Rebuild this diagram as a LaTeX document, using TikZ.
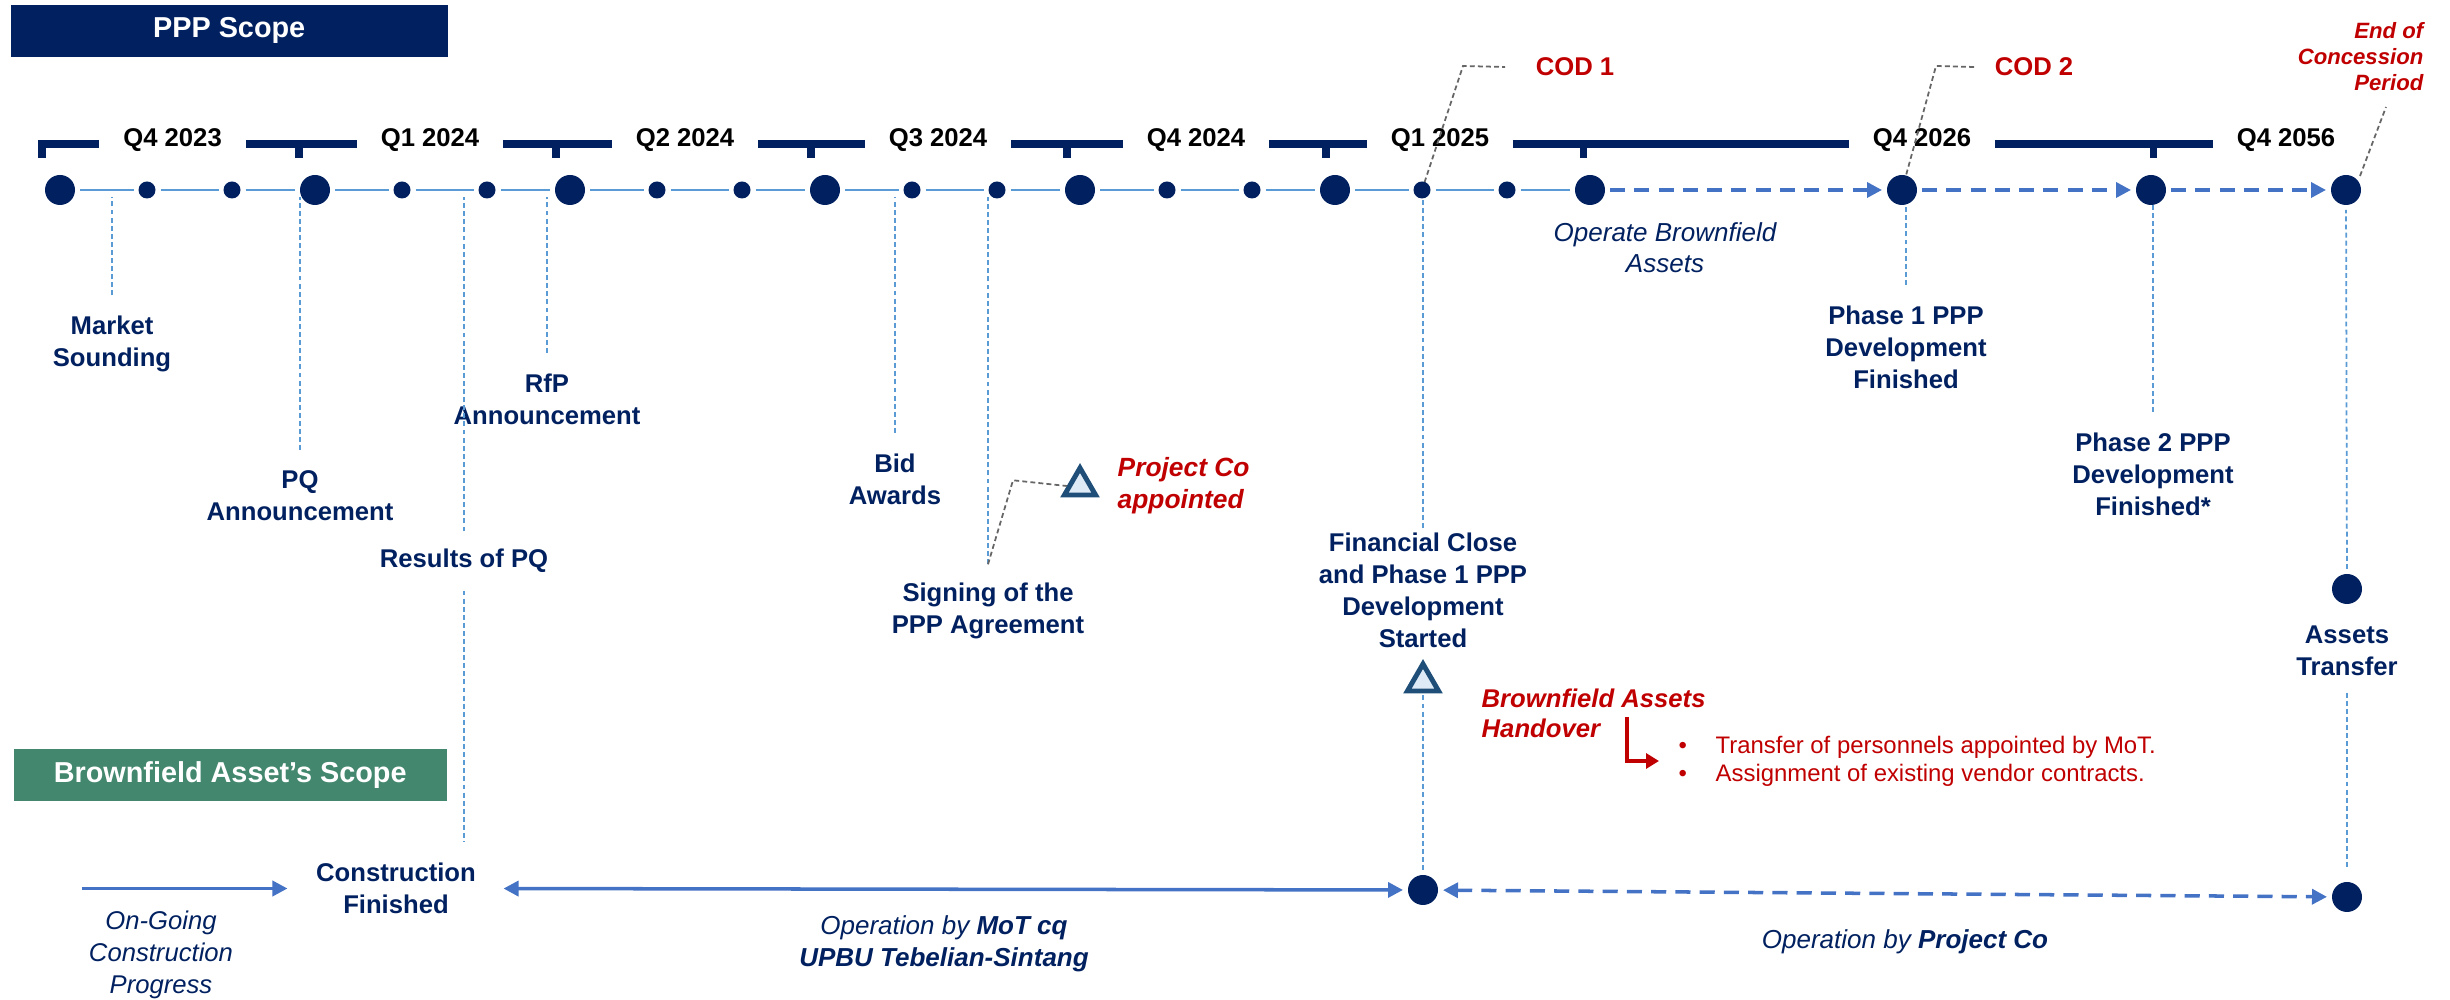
\documentclass[tikz,border=0pt]{standalone}
\usepackage{fontspec}
\setmainfont{Liberation Sans}
\usetikzlibrary{arrows.meta}
\usetikzlibrary{shapes.geometric}
\definecolor{navy}{RGB}{0,32,96}
\definecolor{tlblue}{RGB}{91,155,213}
\definecolor{arrblue}{RGB}{68,114,196}
\definecolor{codred}{RGB}{192,0,0}
\definecolor{scopegreen}{RGB}{67,135,110}
\definecolor{trinavy}{RGB}{31,78,121}
\definecolor{trifill}{RGB}{222,235,247}
\begin{document}
\begin{tikzpicture}[
  >={Triangle[length=0.15cm,width=0.15cm]},
  bigdot/.style={circle,fill=navy,minimum size=0.30cm,inner sep=0pt,outer sep=0.05cm},
  smalldot/.style={circle,fill=navy,minimum size=0.17cm,inner sep=0pt,outer sep=0.05cm},
  seg/.style={tlblue,line width=0.8pt},
  fwd/.style={arrblue,line width=1pt,dash pattern=on 4.3pt off 2.6pt},
  leader/.style={tlblue,line width=0.5pt,dash pattern=on 1.4pt off 0.9pt,shorten <=0.2cm},
  callout/.style={black!60,line width=0.5pt,dash pattern=on 1.4pt off 0.9pt},
  milestone/.style={navy,font=\fontsize{7.3}{9.1}\selectfont\bfseries,align=center,inner sep=0pt},
  quarter/.style={fill=white,font=\fontsize{7.3}{9}\selectfont\bfseries,inner xsep=0.24cm,inner ysep=0.05cm},
  redtag/.style={codred,font=\fontsize{7.3}{9.1}\selectfont\bfseries,inner sep=0pt},
  redit/.style={codred,font=\fontsize{7.5}{9.1}\selectfont\bfseries\itshape,inner sep=0pt,align=left},
  phase/.style={navy,font=\fontsize{7.4}{9.1}\selectfont\itshape,align=center,inner sep=0pt},
  scope/.style={text=white,font=\fontsize{8.2}{10}\selectfont\bfseries,minimum height=0.52cm,anchor=north west},
  flag/.style={regular polygon,regular polygon sides=3,draw=trinavy,fill=trifill,line width=1.4pt,minimum size=0.36cm,inner sep=0pt},
]
\useasboundingbox (0,0) rectangle (24.5,-10);

\node[scope,fill=navy,minimum width=4.37cm] (ppp) at (0.10,-0.04) {PPP Scope};
\node[scope,fill=scopegreen,minimum width=4.33cm] (bfs) at (0.13,-7.48) {Brownfield Asset’s Scope};

\draw[navy,line width=2pt] (0.42,-1.58) -- (0.42,-1.44) -- (22.14,-1.44);
\foreach \x in {2.99,5.56,8.11,10.67,13.26,15.83,21.53}
  \draw[navy,line width=2pt] (\x,-1.44) -- (\x,-1.58);
\foreach \x/\q [count=\i] in {1.726/Q4 2023,4.30/Q1 2024,6.85/Q2 2024,9.38/Q3 2024,11.96/Q4 2024,14.40/Q1 2025,19.22/Q4 2026,22.86/Q4 2056}
  \node[quarter] (q\i) at (\x,-1.40) {\q};

\coordinate (tl) at (0,-1.97);
\node[milestone] (ms) at (1.12,-3.44) {Market\\Sounding};
\node[milestone] (pq) at (3.00,-4.96) {PQ\\Announcement};
\node[milestone] (rpq) at (4.64,-5.61) {Results of PQ};
\node[milestone] (rfp) at (5.47,-3.99) {RfP\\Announcement};
\node[milestone] (bid) at (8.95,-4.79) {Bid\\Awards};
\node[milestone] (sign) at (9.88,-6.11) {Signing of the\\PPP Agreement};
\node[milestone] (fc) at (14.23,-5.905) {Financial Close\\and Phase 1 PPP\\Development\\Started};
\node[milestone] (p1) at (19.06,-3.47) {Phase 1 PPP\\Development\\Finished};
\node[milestone] (p2) at (21.53,-4.74) {Phase 2 PPP\\Development\\Finished*};
\node[milestone] (atr) at (23.47,-6.51) {Assets\\Transfer};
\node[milestone] (cf) at (3.96,-8.885) {Construction\\Finished};

\node[redtag] (cod1) at (15.75,-0.67) {COD 1};
\node[redtag] (cod2) at (20.34,-0.67) {COD 2};
\node[redit,font=\fontsize{6.3}{7.5}\selectfont\bfseries\itshape,align=right,anchor=east] (eoc) at (24.24,-0.565) {End of\\Concession\\Period};
\node[redit,anchor=west] (pco) at (11.17,-4.86) {Project Co\\appointed};
\node[redit,font=\fontsize{7.3}{8.6}\selectfont\bfseries\itshape,anchor=west] (bah) at (14.81,-7.13) {Brownfield Assets\\Handover};
\node[codred,font=\fontsize{6.8}{8}\selectfont,align=left,anchor=west,inner sep=0pt] (bul) at (16.78,-7.61)
  {\makebox[0.37cm][l]{\textbullet}Transfer of personnels appointed by MoT.\\\makebox[0.37cm][l]{\textbullet}Assignment of existing vendor contracts.};

\node[flag] (tri1) at (10.80,-4.86) {};
\node[flag] (tri2) at (14.23,-6.82) {};

\node[phase,font=\fontsize{7.4}{8.8}\selectfont\itshape] (opb) at (16.65,-2.475) {Operate Brownfield\\Assets};
\node[phase,font=\fontsize{7.3}{9.2}\selectfont\itshape] (ogc) at (1.61,-9.55) {On-Going\\Construction\\Progress};
\node[phase] (opm) at (9.44,-9.44) {Operation by \textbf{MoT cq}\\\textbf{UPBU Tebelian-Sintang}};
\node[phase] (opc) at (19.05,-9.42) {Operation by \textbf{Project Co}};

\foreach \n in {ms,pq,rfp,bid,p1,p2}
  \draw[leader] (\n.north) -- (\n.north |- tl);
\draw[leader,shorten <=0.17cm] (rpq.north) -- (rpq.north |- tl);
\draw[leader,shorten <=0.17cm,shorten >=0.2cm] (rpq.south) -- (rpq.south |- cf.north);
\draw[leader,shorten <=0.18cm] (sign.north) -- (sign.north |- tl);
\draw[leader,shorten <=0.04cm] (fc.north) -- (fc.north |- tl);
\draw[leader,shorten <=0.02cm] (tri2.south) -- (tri2.south |- 0,-8.73);
\draw[leader,shorten <=0.16cm,shorten >=0.1cm] (atr.south) -- (atr.south |- 0,-8.80);

\draw[callout] (sign.north) ++(0,0.18) -- ++(0.25,0.84) -- (tri1.west);
\draw[callout] (14.22,-1.90) -- ++(0.41,1.24) -- ([xshift=-0.3cm]cod1.west);
\draw[callout] (19.02,-1.90) -- ++(0.34,1.24) -- ([xshift=-0.2cm]cod2.west);
\draw[callout] (23.60,-1.76) -- ++(0.26,0.69);

\foreach \i in {0,...,6}
  \node[bigdot] (b\i) at ({0.60+2.55*\i},-1.90) {};
\foreach \i in {0,...,5} {
  \node[smalldot] (sa\i) at ({0.60+2.55*\i+0.87},-1.90) {};
  \node[smalldot] (sb\i) at ({0.60+2.55*\i+1.72},-1.90) {};
}
\foreach \i [evaluate=\i as \j using int(\i+1)] in {0,...,5}
  \draw[seg] (b\i) -- (sa\i) -- (sb\i) -- (b\j);
\node[bigdot] (e1) at (19.02,-1.90) {};
\node[bigdot] (e2) at (21.51,-1.90) {};
\node[bigdot] (e3) at (23.46,-1.90) {};
\draw[fwd,->] (b6) -- (e1);
\draw[fwd,->] (e1) -- (e2);
\draw[fwd,->] (e2) -- (e3);

\node[bigdot] (atc) at (23.47,-5.89) {};
\draw[leader,shorten <=0pt] (atc) -- (e3);
\node[bigdot] (bc1) at (14.23,-8.90) {};
\node[bigdot] (bc2) at (23.47,-8.97) {};

\coordinate (ogs) at (0.82,-8.885);
\draw[arrblue,line width=1pt,->,shorten >=0.28cm] (ogs) -- (cf.west);
\draw[arrblue,line width=1pt,<->,shorten <=0.27cm] (cf.east) -- (bc1);
\draw[fwd,<->] (bc1) -- (bc2);

\coordinate (hk) at (16.27,-7.17);
\draw[codred,line width=0.9pt,-{Triangle[length=0.13cm,width=0.15cm]},shorten >=0.19cm] (hk) |- (bul.west);
\end{tikzpicture}
\end{document}
